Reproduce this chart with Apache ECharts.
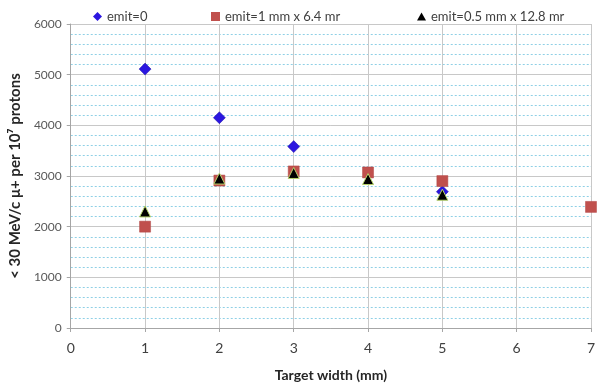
<!DOCTYPE html>
<html><head><meta charset="utf-8">
<script src="https://cdn.jsdelivr.net/npm/echarts@6/dist/echarts.min.js"></script>
<style>html,body{margin:0;padding:0;background:#fff}#c{width:599px;height:388px}</style>
</head><body><div id="c"></div>
<script>
const seriesNames = ['emit=0', 'emit=1 mm x 6.4 mr', 'emit=0.5 mm x 12.8 mr'];
const emit0X = [1, 2, 3, 5];
const emit0Y = [5110, 4150, 3580, 2690];
const emit1X = [1, 2, 3, 4, 5, 7];
const emit1Y = [2000, 2910, 3090, 3070, 2900, 2390];
const emit05X = [1, 2, 3, 4, 5];
const emit05Y = [2300, 2950, 3060, 2940, 2630];
const xTicks = [0, 1, 2, 3, 4, 5, 6, 7];
const yTicks = [0, 1000, 2000, 3000, 4000, 5000, 6000];

const pair = (xs, ys) => xs.map((x, i) => [x, ys[i]]);
const font = 'Lato, "Open Sans", sans-serif';
const legendText = {fontSize: 13, color: '#404040', fontFamily: font};
const mkLegend = (name, icon, left, w, h) => ({
  top: 5, left: left, itemWidth: w, itemHeight: h, itemGap: 4,
  textStyle: legendText, data: [{name: name, icon: icon, itemStyle: {borderWidth: 0}}]
});
const chart = echarts.init(document.getElementById('c'), null, {renderer: 'canvas'});
chart.setOption({
  animation: false,
  textStyle: {fontFamily: font},
  legend: [
    mkLegend(seriesNames[0], 'diamond', 88, 9, 9),
    mkLegend(seriesNames[1], 'rect', 206, 9, 9),
    mkLegend(seriesNames[2], 'triangle', 412, 9, 8)
  ],
  grid: {left: 70, right: 8, top: 24, bottom: 60},
  xAxis: {
    type: 'value', min: xTicks[0], max: xTicks[xTicks.length - 1], interval: 1,
    name: 'Target width (mm)', nameLocation: 'middle', nameGap: 40,
    nameTextStyle: {fontSize: 14, fontWeight: 'bold', color: '#262626'},
    axisLine: {show: true, lineStyle: {color: '#a6a6a6'}},
    axisTick: {show: true, length: 4, lineStyle: {color: '#a6a6a6'}},
    axisLabel: {fontSize: 14, color: '#404040', margin: 13},
    splitLine: {show: true, lineStyle: {color: '#c8c8c8', width: 1}}
  },
  yAxis: {
    type: 'value', min: yTicks[0], max: yTicks[yTicks.length - 1], interval: 1000,
    name: '< 30 MeV/c \u03bc+ per 10\u2077 protons', nameLocation: 'middle', nameGap: 42,
    nameTextStyle: {fontSize: 15, fontWeight: 'bold', color: '#262626'},
    axisLine: {show: true, lineStyle: {color: '#a6a6a6'}},
    axisTick: {show: true, length: 4, lineStyle: {color: '#a6a6a6'}},
    axisLabel: {fontSize: 12, color: '#595959', margin: 9, formatter: v => String(v)},
    splitLine: {show: true, lineStyle: {color: '#c8c8c8', width: 1}},
    minorTick: {show: false, splitNumber: 5},
    minorSplitLine: {show: true, lineStyle: {color: '#8fd0e6', type: [2, 2], width: 1}}
  },
  series: [
    {name: seriesNames[0], type: 'scatter', symbol: 'diamond', symbolSize: 12,
      itemStyle: {color: '#2b16e0', opacity: 1, borderColor: '#1a0fa0', borderWidth: 0.5},
      data: pair(emit0X, emit0Y)},
    {name: seriesNames[1], type: 'scatter', symbol: 'rect', symbolSize: 11,
      itemStyle: {color: '#c0504d', opacity: 1, borderColor: '#b04542', borderWidth: 0.5},
      data: pair(emit1X, emit1Y)},
    {name: seriesNames[2], type: 'scatter', symbol: 'triangle', symbolSize: 11,
      itemStyle: {color: '#000000', opacity: 1, borderColor: '#b5d36a', borderWidth: 1},
      data: pair(emit05X, emit05Y)}
  ]
});
</script></body></html>
